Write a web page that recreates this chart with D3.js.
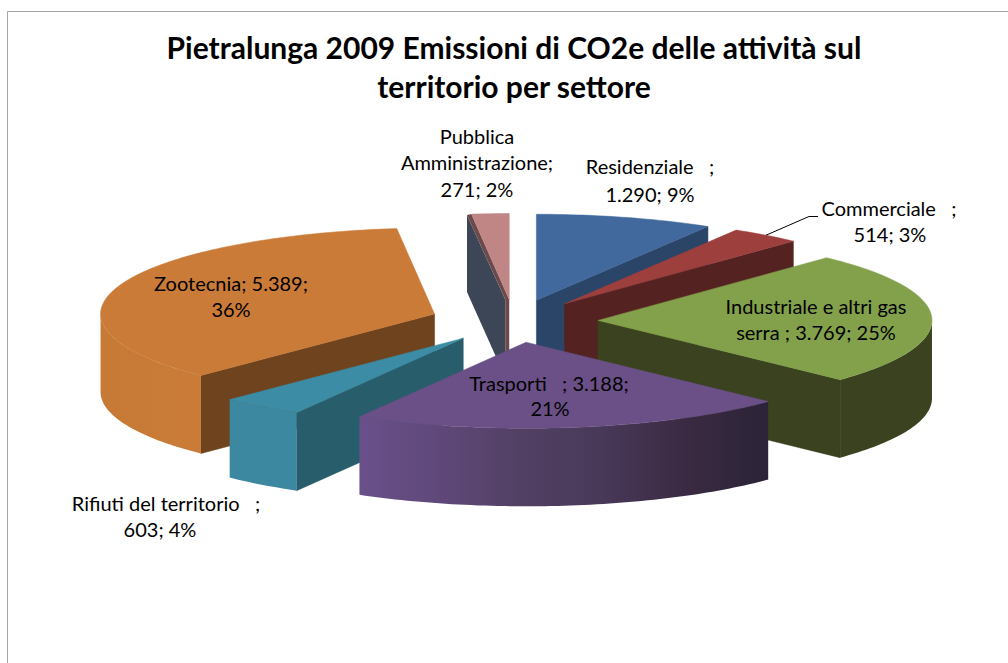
<!DOCTYPE html>
<html><head><meta charset="utf-8">
<script src="https://cdn.jsdelivr.net/npm/d3@7"></script>
<style>
html,body{margin:0;padding:0;background:#fff}
svg{display:block}
text{font-family:Lato,"Open Sans",sans-serif;fill:#000;white-space:pre;text-anchor:middle}
</style></head><body><svg id="c" width="1008" height="663"></svg>
<script>
const titleLines = ["Pietralunga 2009 Emissioni di CO2e delle attività sul", "territorio per settore"];
const categories = ["Residenziale", "Commerciale", "Industriale e altri gas serra", "Trasporti", "Rifiuti del territorio", "Zootecnia", "Pubblica Amministrazione"];
const values = [1290, 514, 3769, 3188, 603, 5389, 271];
const labelLines = [
  ["Residenziale   ;", "1.290; 9%"],
  ["Commerciale   ;", "514; 3%"],
  ["Industriale e altri gas", "serra ; 3.769; 25%"],
  ["Trasporti   ; 3.188;", "21%"],
  ["Rifiuti del territorio   ;", "603; 4%"],
  ["Zootecnia; 5.389;", "36%"],
  ["Pubblica", "Amministrazione;", "271; 2%"]
];
const topColors  = ["#41699d", "#9c3f3d", "#83a04a", "#6b5087", "#3c8ca5", "#cb7b38", "#c08585"];
const faceColors = ["#2a4567", "#552222", "#3a421f", "#2c2439", "#285d6c", "#6e431d", "#3c4657"];
const wallStops  = [
  null, null, ["#3a421f", "#3a421f"],
  ["#69508a", "#5f4879", "#514063", "#483858", "#3a2a42", "#2b2338"],
  ["#3b88a0", "#3b88a0"], ["#c67a36", "#ca7b38"], null
];
const labelPos = [
  [[650,174],[650,202]],
  [[889,216],[890,242]],
  [[816,314],[816,340]],
  [[549,391],[550,416]],
  [[166,511],[160,537]],
  [[231,291],[231,317]],
  [[477,144],[477,170],[477,197]]
];
const drawOrder = [6, 0, 1, 5, 2, 4, 3];

const svg = d3.select("#c"), defs = svg.append("defs");
const cx = 514, cy = 321, explodeX = 84, explodeY = 21.5, rx = 334, ry = 86, depth = 78;

svg.append("path").attr("d", d3.line()([[7.5,663],[7.5,11.5],[1008,11.5]])).attr("fill","none").attr("stroke","#a6a6a6").attr("stroke-width",1);

svg.selectAll("text.title").data(titleLines).join("text").attr("class","title")
  .attr("x", 514).attr("y", (d,i)=>59+39*i).attr("font-size", 30).attr("font-weight", 700).text(d=>d);

const arcs = d3.pie().sort(null).value(d=>d)(values);
const line = d3.line();

arcs.forEach(a=>{ const m=(a.startAngle+a.endAngle)/2; a.ax=cx+explodeX*Math.sin(m); a.ay=cy-explodeY*Math.cos(m); });
const pt = (a,t,dz=0)=>[a.ax+rx*Math.sin(t), a.ay-ry*Math.cos(t)+dz];
const samp = (t0,t1)=>{const n=Math.max(2,Math.ceil((t1-t0)/0.02));return d3.range(n+1).map(k=>t0+(t1-t0)*k/n);};

drawOrder.forEach(i=>{
  const a = arcs[i], g = svg.append("g"), col = topColors[i], f = faceColors[i];
  const face = t=>[[a.ax,a.ay],pt(a,t),pt(a,t,depth),[a.ax,a.ay+depth]];
  if (i === 6) {
    const o = pt(a,a.startAngle);
    g.append("path").attr("d", line([[a.ax-4,a.ay],[o[0]-4.5,o[1]+1],[o[0]-4.5,o[1]+depth],[a.ax-4,a.ay+depth]])+"Z").attr("fill",f);
    g.append("path").attr("d", line([[a.ax,a.ay],o,[o[0]-4.5,o[1]+1],[a.ax-4,a.ay],[a.ax-4,a.ay+depth],[a.ax,a.ay+depth]])+"Z").attr("fill","#6a4a4a");
  } else {
    if (Math.sin(a.startAngle) < -0.001) g.append("path").attr("d", line(face(a.startAngle))+"Z").attr("fill",f).attr("stroke",f).attr("stroke-width",.5);
    if (Math.sin(a.endAngle) > 0.001) g.append("path").attr("d", line(face(a.endAngle))+"Z").attr("fill",f).attr("stroke",f).attr("stroke-width",.5);
  }
  const w0 = Math.max(a.startAngle, Math.PI/2), w1 = Math.min(a.endAngle, 1.5*Math.PI);
  if (w1 > w0 && wallStops[i]) {
    const pts0 = samp(w0,w1).map(t=>pt(a,t)), pts1 = samp(w0,w1).map(t=>pt(a,t,depth)).reverse();
    const xs = pts0.map(p=>p[0]), id = "w"+i;
    const gr = defs.append("linearGradient").attr("id",id).attr("gradientUnits","userSpaceOnUse")
      .attr("x1",d3.min(xs)).attr("x2",d3.max(xs)).attr("y1",0).attr("y2",0);
    wallStops[i].forEach((c,k,arr)=>gr.append("stop").attr("offset",k/(arr.length-1)).attr("stop-color",c));
    g.append("path").attr("d", line(pts0.concat(pts1))+"Z").attr("fill","url(#"+id+")");
  }
  const top = [[a.ax,a.ay]].concat(samp(a.startAngle,a.endAngle).map(t=>pt(a,t)));
  g.append("path").attr("d", line(top)+"Z").attr("fill",col).attr("stroke",col).attr("stroke-width",.5);
});

{
  const a = arcs[1], m = (a.startAngle+a.endAngle)/2, s = pt(a,m);
  svg.append("path").attr("d", line([s,[s[0]+43,216.5],[s[0]+52,216.5]])).attr("fill","none").attr("stroke","#000").attr("stroke-width",1);
}

labelLines.forEach((ls,i)=>{
  ls.forEach((t,k)=>{
    svg.append("text").attr("x",labelPos[i][k][0]).attr("y",labelPos[i][k][1]).attr("font-size",20).text(t);
  });
});
</script></body></html>
